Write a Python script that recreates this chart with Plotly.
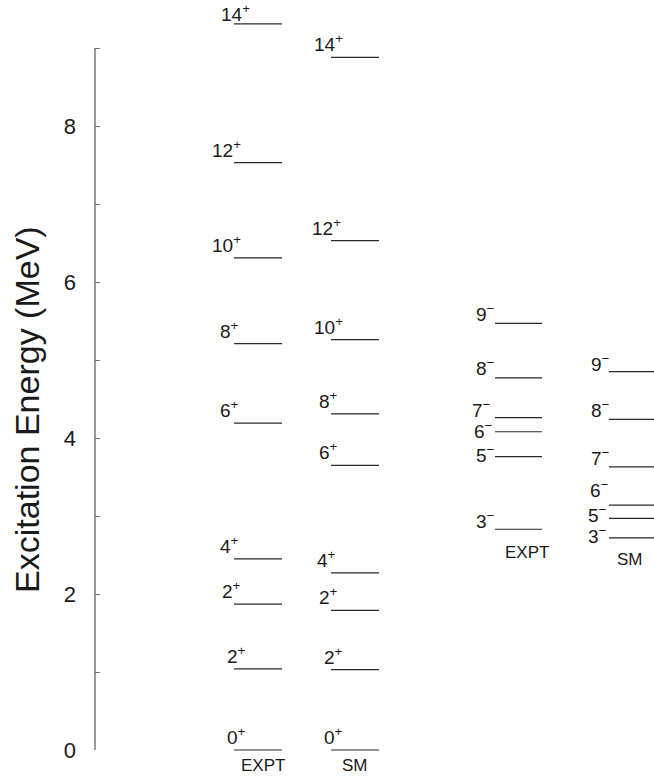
import plotly.graph_objects as go

# ---------------- data (MeV) ----------------
EXPT_POS_J = [0, 2, 2, 4, 6, 8, 10, 12, 14]
EXPT_POS_E = [0.00, 1.04, 1.87, 2.45, 4.19, 5.21, 6.31, 7.53, 9.31]

SM_POS_J = [0, 2, 2, 4, 6, 8, 10, 12, 14]
SM_POS_E = [0.00, 1.03, 1.79, 2.27, 3.65, 4.31, 5.26, 6.53, 8.88]

EXPT_NEG_J = [3, 5, 6, 7, 8, 9]
EXPT_NEG_E = [2.83, 3.76, 4.08, 4.26, 4.77, 5.47]

SM_NEG_J = [3, 5, 6, 7, 8, 9]
SM_NEG_E = [2.72, 2.97, 3.14, 3.63, 4.24, 4.85]

COLUMN_NAMES = ["EXPT", "SM", "EXPT", "SM"]
Y_TICKS = [0, 2, 4, 6, 8]
Y_MINOR_TICKS = [1, 2, 3, 4, 5, 6, 7, 8, 9]
Y_TITLE = "Excitation Energy (MeV)"

# ---------------- layout / style ----------------
W, H = 654, 778
ML = 95
FONT = "Liberation Sans, Arial, Helvetica, sans-serif"
LINE_COL = "#2a2a2a"
TXT_COL = "#1a1a1a"
AX_COL = "#707070"

# column geometry (x axis in page-pixel units)
columns = [
    dict(J=EXPT_POS_J, E=EXPT_POS_E, par="+", x0=234, x1=282, name_dx=5, name_dy=-15,
         dx=[14, 14, 9, 7, 7, 7, 9, 9, 18], dy=[0, 0, 0, 0, 0, 0, 0, 0, -3]),
    dict(J=SM_POS_J, E=SM_POS_E, par="+", x0=331, x1=379, name_dx=0, name_dy=-15,
         dx=[14, 14, 9, 7, 9, 9, 14, 12, 14], dy=[0, 0, 0, 0, 0, 0, 0, 0, 0]),
    dict(J=EXPT_NEG_J, E=EXPT_NEG_E, par="\u2212", x0=495, x1=542, name_dx=8, name_dy=-23,
         dx=[2, 2, 0, -2, 2, 2], dy=[-5, -11, -12, -5, -3, -4]),
    dict(J=SM_NEG_J, E=SM_NEG_E, par="\u2212", x0=609, x1=700, name_dx=None, name_dy=-22,
         dx=[0, 0, 2, 3, 3, 3], dy=[-11, -10, 2, -4, -4, -5]),
]
SM_NEG_NAME_X = 630

# y mapping: 0 MeV at 750 px, 78 px/MeV, plot area spans whole height
PX_PER_MEV = 78.0
y_lo = -(H - 750) / PX_PER_MEV
y_hi = 750 / PX_PER_MEV

fig = go.Figure()
annotations = []

for ci, col in enumerate(columns):
    xs, ys = [], []
    for e in col["E"]:
        xs += [col["x0"], col["x1"], None]
        ys += [e, e, None]
    fig.add_trace(go.Scatter(x=xs, y=ys, mode="lines",
                             line=dict(color=LINE_COL, width=1.2),
                             hoverinfo="skip", showlegend=False))
    for j, e, dx, dy in zip(col["J"], col["E"], col["dx"], col["dy"]):
        annotations.append(dict(
            x=col["x0"], y=e, xref="x", yref="y",
            text=f"{j}<sup>{col['par']}</sup>",
            showarrow=False, xanchor="right", yanchor="bottom",
            xshift=dx, yshift=dy,
            font=dict(family=FONT, size=19, color=TXT_COL)))
    cx = SM_NEG_NAME_X if col["name_dx"] is None else (col["x0"] + col["x1"]) / 2 + col["name_dx"]
    annotations.append(dict(
        x=cx, y=min(col["E"]), xref="x", yref="y",
        text=COLUMN_NAMES[ci], showarrow=False,
        xanchor="center", yanchor="middle", yshift=col["name_dy"],
        font=dict(family=FONT, size=17, color=TXT_COL)))

# axis title (paper coordinates, left of the plot area)
annotations.append(dict(
    x=(27 - ML) / (W - ML), y=4.36, xref="paper", yref="y", text=Y_TITLE, textangle=-90,
    showarrow=False, xanchor="center", yanchor="middle",
    font=dict(family=FONT, size=34, color=TXT_COL)))

# invisible trace to activate overlay axis
fig.add_trace(go.Scatter(x=[None], y=[None], yaxis="y2", showlegend=False, hoverinfo="skip"))

fig.update_layout(
    width=W, height=H,
    margin=dict(l=ML, r=0, t=0, b=0),
    paper_bgcolor="white", plot_bgcolor="white",
    showlegend=False,
    xaxis=dict(range=[ML, W], visible=False, fixedrange=True),
    yaxis=dict(range=[y_lo, y_hi], showgrid=False, zeroline=False, showline=False,
               tickvals=Y_TICKS, ticktext=[str(v) for v in Y_TICKS], ticks="",
               ticklabelstandoff=18,
               tickfont=dict(family=FONT, size=22, color=TXT_COL)),
    yaxis2=dict(range=[y_lo, y_hi], overlaying="y", side="left", showgrid=False,
                zeroline=False, showline=False, showticklabels=False,
                tickvals=Y_MINOR_TICKS, ticks="inside", ticklen=5, tickwidth=1.3,
                tickcolor=AX_COL),
    annotations=annotations,
    shapes=[dict(type="line", xref="paper", yref="y", x0=0, x1=0, y0=0, y1=9,
                 line=dict(color=AX_COL, width=1.4))],
)

fig.write_html("out.html", config={"displayModeBar": False},
               post_script="document.body.style.margin='0';")
